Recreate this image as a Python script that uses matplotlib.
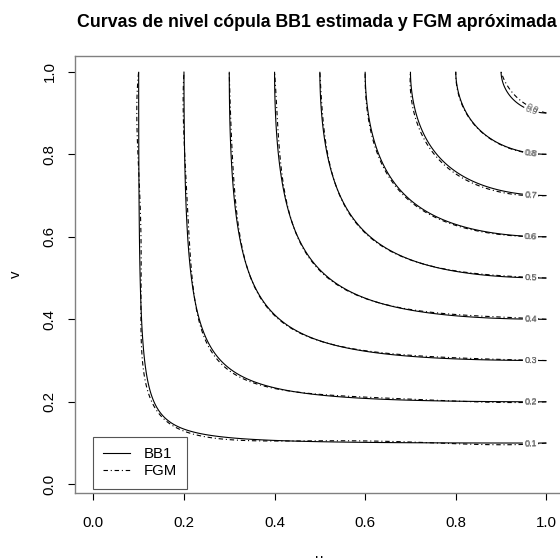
import numpy as np
import matplotlib
matplotlib.use("Agg")
import matplotlib.pyplot as plt
from matplotlib.lines import Line2D
from numpy.polynomial import legendre as L

plt.rcParams['font.family'] = ['Liberation Sans', 'DejaVu Sans']

# estimated BB1 parameters and order of the FGM-type (Legendre) approximation
theta_bb1 = 0.55
delta_bb1 = 1.83
fgm_order = 3
levels = [0.1, 0.2, 0.3, 0.4, 0.5, 0.6, 0.7, 0.8, 0.9]
series_names = ["BB1", "FGM"]
x_ticks = [0.0, 0.2, 0.4, 0.6, 0.8, 1.0]
y_ticks = [0.0, 0.2, 0.4, 0.6, 0.8, 1.0]


def bb1(u, v, th, de):
    u = np.clip(u, 1e-12, 1.0)
    v = np.clip(v, 1e-12, 1.0)
    a = (u ** -th - 1.0) ** de
    b = (v ** -th - 1.0) ** de
    return (1.0 + (a + b) ** (1.0 / de)) ** (-1.0 / th)


def leg(j, x):
    c = np.zeros(j + 1)
    c[j] = 1.0
    return L.legval(x, c)


def p_orth(j, u):
    return np.sqrt(2 * j + 1) * leg(j, 2 * u - 1)


def phi_int(j, u):
    x = 2 * u - 1
    return (leg(j + 1, x) - leg(j - 1, x)) / (2 * np.sqrt(2 * j + 1))


# coefficients of the generalized FGM expansion from the BB1 cell masses
N = 600
e = np.linspace(0, 1, N + 1)
EU, EV = np.meshgrid(e, e, indexing='ij')
Ce = bb1(EU, EV, theta_bb1, delta_bb1)
Ce[0, :] = 0.0
Ce[:, 0] = 0.0
mass = Ce[1:, 1:] - Ce[:-1, 1:] - Ce[1:, :-1] + Ce[:-1, :-1]
mid = 0.5 * (e[1:] + e[:-1])
P = np.stack([p_orth(j, mid) for j in range(1, fgm_order + 1)], axis=1)
A = P.T @ mass @ P

g = np.linspace(0, 1, 301)
U, V = np.meshgrid(g, g, indexing='ij')
C_bb1 = bb1(U, V, theta_bb1, delta_bb1)
C_bb1[0, :] = 0.0
C_bb1[:, 0] = 0.0
Phi = np.stack([phi_int(j, g) for j in range(1, fgm_order + 1)], axis=1)
C_fgm = U * V + Phi @ A @ Phi.T

fig = plt.figure(figsize=(5.6, 5.58), dpi=100)
ax = fig.add_axes([0.1334, 0.117, 0.8746, 0.7832])

dotdash = (0, (4, 2.5, 1, 2.5))
cs1 = ax.contour(U, V, C_bb1, levels=levels, colors='black', linewidths=0.8,
                 linestyles='solid')
cs2 = ax.contour(U, V, C_fgm, levels=levels, colors='black', linewidths=0.8,
                 linestyles=[dotdash])
for cs in (cs1, cs2):
    ax.clabel(cs, levels, inline=True, fontsize=6.5, colors='#666666',
              fmt='%.1f', inline_spacing=2,
              manual=[(0.965, lv) for lv in levels])

ax.set_xlim(-0.0412, 1.04)
ax.set_ylim(-0.0204, 1.039)
ax.set_xticks(x_ticks)
ax.set_yticks(y_ticks)
ax.set_xticklabels([f"{t:.1f}" for t in x_ticks], fontsize=10.8)
ax.set_yticklabels([f"{t:.1f}" for t in y_ticks], fontsize=10.8, rotation=90,
                   va='center')
ax.tick_params(direction='out', length=5, width=0.8, colors='black')
ax.tick_params(axis='x', pad=12)
ax.tick_params(axis='y', pad=8)
for s in ax.spines.values():
    s.set_color('#808080')
    s.set_linewidth(1.0)
ax.set_xlabel("u", fontsize=10.8, labelpad=16)
ax.set_ylabel("v", fontsize=10.8, labelpad=14)

fig.text(0.565, 0.959, "Curvas de nivel cópula BB1 estimada y FGM apróximada",
         ha='center', va='center', fontsize=12.8, fontweight='bold')

handles = [Line2D([], [], color='black', lw=0.8),
           Line2D([], [], color='black', lw=0.8, ls=dotdash)]
leg_box = ax.legend(handles, series_names, loc='lower left',
                    bbox_to_anchor=(0.0368, 0.0085), borderaxespad=0,
                    fontsize=10.8, handlelength=1.8, handletextpad=0.9,
                    labelspacing=0.2, borderpad=0.7, fancybox=False,
                    framealpha=1)
leg_box.get_frame().set_edgecolor('#555555')
leg_box.get_frame().set_linewidth(0.8)

fig.savefig("out.png", dpi=100)
